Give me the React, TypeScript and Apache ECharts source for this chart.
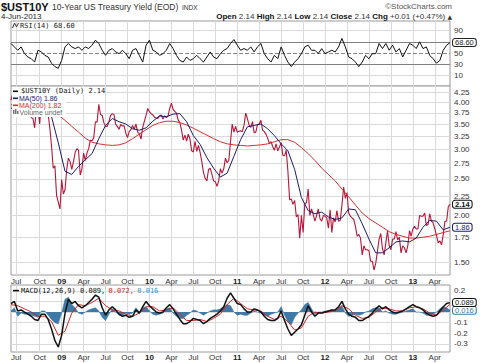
import React, { useEffect, useRef } from "react";
import * as echarts from "echarts";

const startDate = Date.UTC(2008, 5, 10);
const weekCount = 261;
const monthNames = ["Jan", "Feb", "Mar", "Apr", "May", "Jun", "Jul", "Aug", "Sep", "Oct", "Nov", "Dec"];

// weekly closes of $UST10Y, Jun 2008 .. 4 Jun 2013
const price = [
  4.05, 4.2, 4.09, 3.96, 3.87, 3.88, 4.09, 3.98, 4.0, 3.92,
  3.84, 3.78, 3.64, 3.62, 3.42, 3.82, 3.83, 3.5, 4.05, 3.75,
  3.81, 3.7, 3.71, 3.42, 3.06, 2.67, 2.71, 2.26, 2.17, 2.08,
  2.49, 2.28, 2.34, 2.65, 2.84, 2.78, 2.65, 2.78, 2.94, 3.01,
  2.98, 2.56, 2.66, 2.93, 2.8, 2.93, 3.01, 3.17, 3.16, 3.22,
  3.55, 3.54, 3.95, 3.71, 3.69, 3.53, 3.45, 3.45, 3.55, 3.69,
  3.73, 3.71, 3.49, 3.45, 3.39, 3.49, 3.46, 3.46, 3.31, 3.22,
  3.34, 3.38, 3.47, 3.39, 3.5, 3.33, 3.3, 3.19, 3.43, 3.56,
  3.69, 3.85,
  3.77, 3.73, 3.7, 3.65, 3.63, 3.62, 3.67, 3.7, 3.61, 3.68,
  3.64, 3.68, 3.85, 3.98, 3.83, 3.78, 3.74, 3.59, 3.53, 3.37,
  3.17, 3.27, 3.15, 3.29, 3.19, 2.97, 2.95, 3.15, 2.96, 3.07,
  2.94, 2.78, 2.6, 2.51, 2.47, 2.65, 2.67, 2.57, 2.47, 2.46,
  2.39, 2.47, 2.66, 2.59, 2.66, 2.84, 2.76, 2.8, 3.14, 3.5,
  3.33, 3.45,
  3.33, 3.35, 3.36, 3.34, 3.47, 3.74, 3.62, 3.48, 3.43, 3.55,
  3.32, 3.33, 3.49, 3.5, 3.58, 3.37, 3.34, 3.29, 3.21, 3.11,
  3.14, 3.05, 2.98, 3.1, 2.97, 3.04, 3.12, 2.89, 2.88, 2.98,
  2.62, 2.2, 2.21, 2.14, 2.19, 1.98, 2.01, 1.74, 2.0, 1.8,
  2.15, 2.16, 2.35, 2.0, 2.08, 2.01, 1.93, 2.0, 2.08, 1.96,
  1.93, 2.0,
  1.99, 1.97, 1.85, 2.07, 1.8, 1.97, 1.92, 2.06, 1.93, 1.94,
  2.13, 2.38, 2.22, 2.3, 2.03, 1.99, 1.97, 1.95, 1.87, 1.76,
  1.78, 1.74, 1.57, 1.66, 1.62, 1.62, 1.61, 1.51, 1.51, 1.43,
  1.49, 1.6, 1.73, 1.79, 1.63, 1.57, 1.69, 1.82, 1.66, 1.62,
  1.73, 1.73, 1.81, 1.72, 1.75, 1.59, 1.66, 1.64, 1.59, 1.66,
  1.82, 1.76,
  1.84, 1.87, 1.84, 1.84, 2.0, 1.99, 1.99, 2.03, 1.88, 1.89,
  2.02, 1.93, 1.91, 1.84, 1.77, 1.69, 1.71, 1.67, 1.78, 1.93,
  1.93, 2.11, 2.14,
];

// MA(50), one reading every 4 weeks
const ma50 = [
  3.85, 3.93, 3.98, 3.9, 3.79, 3.72, 3.66, 3.12, 2.62, 2.57,
  2.7, 2.81, 2.92, 3.2, 3.47, 3.62, 3.55, 3.5, 3.4, 3.37,
  3.42, 3.56, 3.68, 3.66, 3.72, 3.73, 3.55, 3.26, 3.09, 2.85,
  2.67, 2.53, 2.59, 2.87, 3.18, 3.44, 3.47, 3.5, 3.4, 3.26,
  3.1, 2.97, 2.65, 2.23, 2.06, 2.02, 2.04, 1.98, 1.95, 1.97,
  2.08, 2.07, 1.9, 1.73, 1.59, 1.59, 1.64, 1.7, 1.71, 1.7,
  1.74, 1.86, 1.94, 1.93, 1.83, 1.86,
];

// MA(200), one reading every 4 weeks
const ma200 = [
  3.95, 3.92, 3.9, 3.87, 3.84, 3.8, 3.77, 3.7, 3.58, 3.45,
  3.33, 3.21, 3.13, 3.1, 3.08, 3.07, 3.08, 3.12, 3.2, 3.29,
  3.38, 3.47, 3.53, 3.56, 3.56, 3.53, 3.48, 3.41, 3.34, 3.27,
  3.2, 3.14, 3.1, 3.08, 3.07, 3.06, 3.07, 3.08, 3.1, 3.14,
  3.18, 3.18, 3.13, 3.03, 2.92, 2.8, 2.67, 2.57, 2.47, 2.35,
  2.24, 2.13, 2.03, 1.96, 1.91, 1.86, 1.81, 1.78, 1.76, 1.74,
  1.74, 1.75, 1.76, 1.78, 1.8, 1.82,
];

// RSI(14), one reading every 2 weeks
const rsi = [
  67, 61, 55, 61, 49, 43, 40, 34, 55, 52,
  46, 43, 32, 26, 23, 37, 61, 67, 61, 58,
  61, 55, 61, 58, 64, 73, 67, 55, 46, 55,
  58, 52, 49, 55, 49, 40, 55, 58, 46, 34,
  64, 73, 55, 52, 46, 49, 55, 67, 58, 46,
  37, 34, 43, 37, 40, 46, 40, 34, 43, 52,
  43, 40, 49, 55, 58, 67, 74, 64, 55, 58,
  55, 61, 52, 61, 67, 49, 40, 34, 46, 40,
  61, 46, 34, 26, 34, 40, 49, 61, 64, 55,
  55, 49, 58, 49, 52, 55, 52, 61, 76, 61,
  43, 40, 34, 26, 34, 46, 40, 49, 49, 67,
  58, 67, 55, 64, 52, 58, 43, 55, 67, 64,
  58, 70, 58, 61, 46, 40, 32, 37, 55, 64,
  68.6,
];

// MACD(12,26,9) line, one reading every 2 weeks
const macd = [
  0.08, 0.1, 0.01, 0.02, 0.0, -0.02, -0.04, -0.07, -0.08, -0.02,
  -0.02, -0.07, -0.16, -0.27, -0.33, -0.22, -0.01, 0.12, 0.08, 0.1,
  0.06, 0.04, 0.06, 0.09, 0.12, 0.16, 0.14, 0.04, -0.03, 0.02,
  0.05, 0.02, -0.02, -0.04, -0.03, -0.05, -0.04, 0.02, -0.01, 0.05,
  0.1, 0.06, 0.03, 0.0, -0.01, 0.0, 0.04, 0.07, 0.03, -0.02,
  -0.07, -0.11, -0.11, -0.09, -0.06, -0.07, -0.08, -0.11, -0.09, -0.06,
  -0.04, -0.02, 0.01, 0.05, 0.13, 0.18, 0.13, 0.08, 0.07, 0.03,
  0.0, 0.0, 0.03, 0.02, 0.0, -0.04, -0.07, -0.08, -0.08, -0.06,
  0.01, -0.08, -0.16, -0.22, -0.19, -0.16, -0.12, -0.03, 0.06, 0.0,
  -0.04, -0.01, -0.01, 0.0, 0.01, 0.02, 0.02, 0.05, 0.1, 0.03,
  -0.02, -0.04, -0.05, -0.08, -0.08, -0.06, -0.04, -0.01, 0.03, 0.06,
  0.03, 0.05, 0.02, 0.0, -0.01, 0.0, 0.01, 0.03, 0.05, 0.07,
  0.05, 0.04, 0.02, -0.01, -0.03, -0.04, -0.03, 0.01, 0.05, 0.08,
  0.089,
];

// signal line, one reading every 4 weeks
const signal = [
  0.07, 0.06, 0.03, 0.0, -0.04, -0.04, -0.09, -0.22, -0.18, -0.01,
  0.07, 0.06, 0.09, 0.13, 0.06, 0.02, 0.01, -0.02, -0.04, -0.01,
  0.05, 0.05, 0.01, 0.02, 0.04, -0.02, -0.08, -0.08, -0.07, -0.09,
  -0.06, -0.02, 0.07, 0.13, 0.08, 0.03, 0.02, 0.01, -0.04, -0.07,
  -0.04, -0.09, -0.17, -0.15, -0.04, 0.0, -0.01, 0.0, 0.01, 0.06,
  0.03, -0.03, -0.06, -0.05, 0.0, 0.04, 0.03, 0.01, 0.01, 0.04,
  0.05, 0.03, -0.01, -0.03, 0.02, 0.072,
];

// histogram, one reading every 2 weeks
const hist = [
  0.01, 0.04, -0.04, -0.01, -0.02, -0.02, -0.03, -0.04, -0.05, 0.01,
  0.01, -0.03, -0.07, -0.1, -0.11, -0.01, 0.12, 0.14, 0.07, 0.04,
  -0.01, -0.02, 0.0, 0.02, 0.03, 0.04, 0.01, -0.05, -0.08, -0.02,
  0.03, 0.0, -0.03, -0.03, -0.01, -0.02, -0.01, 0.04, 0.0, 0.04,
  0.05, 0.01, -0.02, -0.03, -0.02, -0.01, 0.03, 0.04, -0.01, -0.04,
  -0.06, -0.06, -0.03, -0.01, 0.02, 0.01, -0.01, -0.03, -0.01, 0.01,
  0.02, 0.02, 0.03, 0.05, 0.07, 0.06, 0.0, -0.03, -0.02, -0.03,
  -0.03, -0.01, 0.01, 0.0, -0.01, -0.03, -0.04, -0.02, -0.01, 0.0,
  0.05, -0.03, -0.09, -0.12, -0.05, -0.01, 0.02, 0.07, 0.09, 0.03,
  -0.02, 0.0, 0.0, 0.01, 0.01, 0.02, 0.01, 0.03, 0.06, -0.01,
  -0.04, -0.03, -0.02, -0.03, -0.02, 0.0, 0.01, 0.03, 0.04, 0.04,
  0.0, 0.01, -0.01, -0.02, -0.02, -0.01, 0.0, 0.01, 0.02, 0.03,
  0.0, 0.0, -0.01, -0.03, -0.03, -0.02, 0.0, 0.03, 0.05, 0.04,
  0.016,
];

const priceLevels = [1.5, 1.75, 2.0, 2.25, 2.5, 2.75, 3.0, 3.25, 3.5, 3.75, 4.0, 4.25];
const rsiLevels = [10, 30, 50, 70, 90];
const rsiLabelled = [10, 30, 50, 90];
const macdLevels = [0.2, 0.1, 0, -0.1, -0.2, -0.3];
const macdLabelled = [0.2, -0.1, -0.2, -0.3];

const sans = "'Liberation Sans', Arial, sans-serif";
const mono = "'DejaVu Sans Mono', monospace";

function makeDates(): string[] {
  const out: string[] = [];
  for (let i = 0; i < weekCount; i++) {
    out.push(new Date(startDate + i * 7 * 86400000).toISOString().slice(0, 10));
  }
  return out;
}
const dates = makeDates();
const quarterStarts = new Set<number>();
dates.forEach((d, i) => {
  if (i === 0) return;
  const m = +d.slice(5, 7) - 1;
  const pm = +dates[i - 1].slice(5, 7) - 1;
  if (m !== pm && m % 3 === 0) quarterStarts.add(i);
});
const isQuarter = (i: number) => quarterStarts.has(i);

function spread(values: number[], step: number) {
  const out: (number | null)[] = new Array(weekCount).fill(null);
  values.forEach((v, i) => {
    out[i * step] = v;
  });
  return out;
}

const dateLabel = (value: string) => {
  const m = +value.slice(5, 7) - 1;
  if (m === 0) return `{y|${value.slice(2, 4)}}`;
  return monthNames[m];
};

const gridLeft = 11;
const gridRight = 30;

function xAxis(gridIndex: number, showLabels: boolean, margin: number) {
  return {
    type: "category",
    gridIndex,
    data: dates,
    boundaryGap: false,
    axisLine: { show: false },
    axisTick: { show: false },
    axisLabel: {
      show: showLabels,
      interval: (i: number) => isQuarter(i),
      formatter: dateLabel,
      fontSize: 8,
      color: "#333",
      fontFamily: sans,
      margin,
      rich: { y: { fontWeight: "bold", fontSize: 8, color: "#222", fontFamily: sans } },
    },
    splitLine: { show: true, interval: (i: number) => isQuarter(i), lineStyle: { color: "#dadada", width: 1 } },
  };
}

function hiddenY(gridIndex: number, type: string, min: number, max: number) {
  return {
    type,
    gridIndex,
    min,
    max,
    axisLine: { show: false },
    axisTick: { show: false },
    axisLabel: { show: false },
    splitLine: { show: false },
  };
}

const levelLabel = { position: "end", distance: 4, fontSize: 8, color: "#333", fontFamily: sans };

function valueBox(text: string, color: string, bold: boolean) {
  return {
    show: true,
    formatter: text,
    distance: 3,
    fontSize: 7.5,
    lineHeight: 7,
    fontFamily: sans,
    fontWeight: bold ? "bold" : "normal",
    color,
    backgroundColor: "#fff",
    borderColor: color,
    borderWidth: 1,
    borderRadius: 2,
    padding: [0, 2, 0, 2],
  };
}

function buildOption() {
  const lineBase = { type: "line", showSymbol: false, symbol: "none", connectNulls: true, silent: true };
  return {
    animation: false,
    backgroundColor: "#fff",
    grid: [
      { left: gridLeft, right: gridRight, top: 21, height: 65, show: true, borderColor: "#9a9a9a", borderWidth: 1, backgroundColor: "#fff" },
      { left: gridLeft, right: gridRight, top: 86, height: 189, show: true, borderColor: "#9a9a9a", borderWidth: 1, backgroundColor: "#fff" },
      { left: gridLeft, right: gridRight, top: 285, height: 67, show: true, borderColor: "#9a9a9a", borderWidth: 1, backgroundColor: "#fff" },
    ],
    xAxis: [xAxis(0, false, 2), xAxis(1, true, 2), xAxis(2, true, 1)],
    yAxis: [
      hiddenY(0, "value", -8.5, 107),
      hiddenY(1, "log", 1.388, 4.418),
      hiddenY(2, "value", -0.377, 0.255),
    ],
    series: [
      {
        ...lineBase,
        name: "RSI",
        xAxisIndex: 0,
        yAxisIndex: 0,
        data: spread(rsi, 2),
        lineStyle: { color: "#111", width: 1 },
        endLabel: valueBox("68.60", "#222", false),
        markLine: {
          z: 1,
          symbol: "none",
          silent: true,
          animation: false,
          label: levelLabel,
          data: rsiLevels.map((v) => ({
            yAxis: v,
            lineStyle:
              v === 50
                ? { color: "#888", type: "dashed", width: 1 }
                : v === 30 || v === 70
                ? { color: "#808080", type: "solid", width: 1 }
                : { color: "#dadada", type: "solid", width: 1 },
            label: { show: rsiLabelled.includes(v), formatter: String(v) },
          })),
        },
      },
      {
        ...lineBase,
        name: "$UST10Y",
        xAxisIndex: 1,
        yAxisIndex: 1,
        data: price,
        lineStyle: { color: "#b8163a", width: 1.1 },
        endLabel: valueBox("2.14", "#111", true),
        markLine: {
          z: 1,
          symbol: "none",
          silent: true,
          animation: false,
          label: levelLabel,
          lineStyle: { color: "#dadada", type: "solid", width: 1 },
          data: priceLevels.map((v) => ({ yAxis: v, label: { formatter: v.toFixed(2) } })),
        },
      },
      {
        ...lineBase,
        name: "MA(200)",
        xAxisIndex: 1,
        yAxisIndex: 1,
        data: spread(ma200, 4),
        lineStyle: { color: "#d43030", width: 1 },
      },
      {
        ...lineBase,
        name: "MA(50)",
        xAxisIndex: 1,
        yAxisIndex: 1,
        data: spread(ma50, 4),
        lineStyle: { color: "#1c1c6e", width: 1 },
        endLabel: valueBox("1.86", "#1c1c6e", false),
      },
      {
        ...lineBase,
        name: "Histogram",
        xAxisIndex: 2,
        yAxisIndex: 2,
        data: spread(hist, 2),
        lineStyle: { color: "#3f7aa6", width: 0.6 },
        areaStyle: { color: "#3f7aa6", opacity: 1 },
        endLabel: valueBox("0.016", "#3f7aa6", false),
        markLine: {
          z: 1,
          symbol: "none",
          silent: true,
          animation: false,
          label: levelLabel,
          lineStyle: { color: "#dadada", type: "solid", width: 1 },
          data: macdLevels.map((v) => ({
            yAxis: v,
            label: { show: macdLabelled.includes(v), formatter: String(v) },
          })),
        },
      },
      {
        ...lineBase,
        name: "Signal",
        xAxisIndex: 2,
        yAxisIndex: 2,
        data: spread(signal, 4),
        lineStyle: { color: "#d02828", width: 1 },
      },
      {
        ...lineBase,
        name: "MACD",
        xAxisIndex: 2,
        yAxisIndex: 2,
        data: spread(macd, 2),
        lineStyle: { color: "#111", width: 1.5 },
        endLabel: valueBox("0.089", "#111", false),
      },
    ],
    graphic: [
      {
        type: "text",
        z: 100,
        x: 1,
        y: 7,
        style: {
          text: "{t|$UST10Y} {s|10-Year US Treasury Yield (EOD)} {i|INDX}",
          verticalAlign: "middle",
          fill: "#222",
          rich: {
            t: { fontSize: 11, fontWeight: "bold", fontFamily: sans, fill: "#111" },
            s: { fontSize: 8.5, fontFamily: sans, fill: "#333" },
            i: { fontSize: 6.5, fontFamily: sans, fill: "#333" },
          },
        },
      },
      { type: "text", z: 100, x: 1, y: 16, style: { text: "4-Jun-2013", fontSize: 8, fontFamily: sans, fill: "#222", verticalAlign: "middle" } },
      {
        type: "text",
        z: 100,
        x: 452,
        y: 6,
        style: { text: "©StockCharts.com", fontSize: 8, fontFamily: sans, fill: "#555", align: "right", verticalAlign: "middle" },
      },
      {
        type: "text",
        z: 100,
        x: 452,
        y: 16,
        style: {
          text: "{b|Open} 2.14 {b|High} 2.14 {b|Low} 2.14 {b|Close} 2.14 {b|Chg} +0.01 (+0.47%) {a|▲}",
          fontSize: 8,
          fontFamily: sans,
          fill: "#333",
          align: "right",
          verticalAlign: "middle",
          rich: {
            b: { fontSize: 8, fontWeight: "bold", fontFamily: sans, fill: "#111" },
            a: { fontSize: 6, fontFamily: "'DejaVu Sans', sans-serif", fill: "#333" },
          },
        },
      },
      // RSI label
      {
        type: "polyline",
        z: 100,
        shape: { points: [[12.5, 28], [14.5, 23], [16.5, 27], [18.5, 23]] },
        style: { stroke: "#333", lineWidth: 1, fill: "none" },
      },
      { type: "text", z: 100, x: 20, y: 25.5, style: { text: "RSI(14) 68.60", fontSize: 7, fontFamily: mono, fill: "#222", verticalAlign: "middle" } },
      // main legend
      { type: "rect", z: 99, shape: { x: 12, y: 87, width: 54, height: 30 }, style: { fill: "#fff" } },
      { type: "rect", z: 99, shape: { x: 12, y: 87, width: 91, height: 8 }, style: { fill: "#fff" } },
      { type: "rect", z: 100, shape: { x: 13, y: 90.5, width: 5, height: 1.6 }, style: { fill: "#111" } },
      { type: "text", z: 100, x: 21, y: 91.3, style: { text: "$UST10Y (Daily) 2.14", fontSize: 7, fontFamily: mono, fill: "#111", verticalAlign: "middle" } },
      { type: "rect", z: 100, shape: { x: 13, y: 97.5, width: 5, height: 1.6 }, style: { fill: "#1c1c6e" } },
      { type: "text", z: 100, x: 19, y: 98.3, style: { text: "MA(50) 1.86", fontSize: 7, fontFamily: sans, fill: "#1c1c6e", verticalAlign: "middle" } },
      { type: "rect", z: 100, shape: { x: 13, y: 104.5, width: 5, height: 1.6 }, style: { fill: "#d43030" } },
      { type: "text", z: 100, x: 19, y: 105.3, style: { text: "MA(200) 1.82", fontSize: 7, fontFamily: sans, fill: "#d43030", verticalAlign: "middle" } },
      { type: "rect", z: 100, shape: { x: 13, y: 110, width: 1.5, height: 4 }, style: { fill: "#777" } },
      { type: "rect", z: 100, shape: { x: 15, y: 109, width: 1.5, height: 5 }, style: { fill: "#777" } },
      { type: "rect", z: 100, shape: { x: 17, y: 111, width: 1.5, height: 3 }, style: { fill: "#777" } },
      { type: "text", z: 100, x: 19.5, y: 112.3, style: { text: "Volume undef", fontSize: 7, fontFamily: sans, fill: "#666", verticalAlign: "middle" } },
      // MACD legend
      { type: "rect", z: 100, shape: { x: 13, y: 289.8, width: 6, height: 1.6 }, style: { fill: "#111" } },
      {
        type: "text",
        z: 100,
        x: 21,
        y: 290.6,
        style: {
          text: "{k|MACD(12,26,9) 0.089,} {r|0.072,} {c|0.016}",
          verticalAlign: "middle",
          rich: {
            k: { fontSize: 7, fontFamily: mono, fill: "#111" },
            r: { fontSize: 7, fontFamily: mono, fill: "#d02828" },
            c: { fontSize: 7, fontFamily: mono, fill: "#4a8fbf" },
          },
        },
      },
    ],
  };
}

export default function App() {
  const ref = useRef<HTMLDivElement>(null);
  useEffect(() => {
    if (!ref.current) return;
    const chart = echarts.init(ref.current, undefined, { renderer: "svg" });
    chart.setOption(buildOption() as any);
    return () => chart.dispose();
  }, []);
  return (
    <div
      ref={ref}
      style={{ position: "fixed", left: 0, top: 0, width: 480, height: 363, background: "#fff" }}
    />
  );
}
